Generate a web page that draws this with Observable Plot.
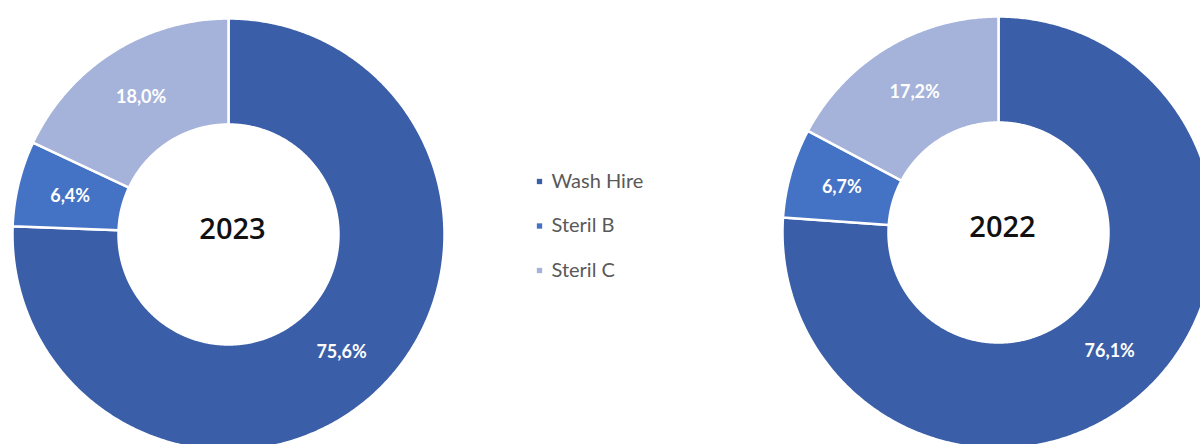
<!DOCTYPE html>
<html>
<head>
<meta charset="utf-8">
<script src="https://cdn.jsdelivr.net/npm/d3@7"></script>
<script src="https://cdn.jsdelivr.net/npm/@observablehq/plot@0.6"></script>
<style>
  html, body { margin: 0; padding: 0; background: #fff; overflow: hidden; }
  #chart svg { display: block; overflow: hidden; }
</style>
</head>
<body>
<div id="chart"></div>
<script>
// ---- data ----
const categories = ["Wash Hire", "Steril B", "Steril C"];
const years = ["2023", "2022"];
const values2023 = [75.6, 6.4, 18.0];
const values2022 = [76.1, 6.7, 17.2];
const colors = ["#3A5EA8", "#4472C4", "#A5B3DA"];

// ---- layout (pixel space, identity scales) ----
const W = 1200, H = 444;
const centers = [{cx: 228, cy: 234}, {cx: 998, cy: 232}];
const R = 216, r = 110;
const seriesByYear = [values2023, values2022];

const rings = [];
const labels = [];
const centerLabels = [];
years.forEach((year, yi) => {
  const {cx, cy} = centers[yi];
  const vals = seriesByYear[yi];
  const total = d3.sum(vals);
  let acc = 0;
  vals.forEach((v, ci) => {
    const a0 = acc / total * 2 * Math.PI;
    acc += v;
    const a1 = acc / total * 2 * Math.PI;
    const key = year + "-" + categories[ci];
    const n = Math.max(4, Math.ceil((a1 - a0) / (Math.PI / 360)));
    const pts = [];
    for (let i = 0; i <= n; i++) {
      const a = a0 + (a1 - a0) * i / n;
      pts.push([cx + R * Math.sin(a), cy - R * Math.cos(a)]);
    }
    for (let i = n; i >= 0; i--) {
      const a = a0 + (a1 - a0) * i / n;
      pts.push([cx + r * Math.sin(a), cy - r * Math.cos(a)]);
    }
    pts.push(pts[0]);
    pts.forEach(([x, y]) => rings.push({key, cat: categories[ci], x, y}));
    const am = (a0 + a1) / 2, rm = (R + r) / 2;
    labels.push({
      x: cx + rm * Math.sin(am),
      y: cy - rm * Math.cos(am),
      text: v.toFixed(1).replace(".", ",") + "%"
    });
  });
  centerLabels.push({x: cx + 4, y: cy - 5, text: year});
});

const legendRows = categories.map((c, i) => ({cat: c, x: 539, y: 181 + i * 44.5}));

const chart = Plot.plot({
  width: W,
  height: H,
  margin: 0,
  x: {type: "identity", axis: null},
  y: {type: "identity", axis: null},
  color: {domain: categories, range: colors},
  style: {background: "#fff"},
  marks: [
    Plot.line(rings, {x: "x", y: "y", z: "key", fill: "cat", stroke: "white", strokeWidth: 2.5, strokeLinejoin: "round", curve: "linear"}),
    Plot.text(labels, {x: "x", y: "y", text: "text", fill: "white", fontSize: 18, fontWeight: "bold", fontFamily: "Lato"}),
    Plot.text(centerLabels, {x: "x", y: "y", text: "text", fill: "#111", fontSize: 29, fontWeight: 600, fontFamily: "Open Sans"}),
    Plot.dot(legendRows, {x: "x", y: "y", fill: "cat", symbol: "square", r: 3}),
    Plot.text(legendRows, {x: d => d.x + 12, y: "y", text: "cat", textAnchor: "start", fill: "#595959", fontSize: 20, fontFamily: "Lato"})
  ]
});
document.getElementById("chart").appendChild(chart);
</script>
</body>
</html>
